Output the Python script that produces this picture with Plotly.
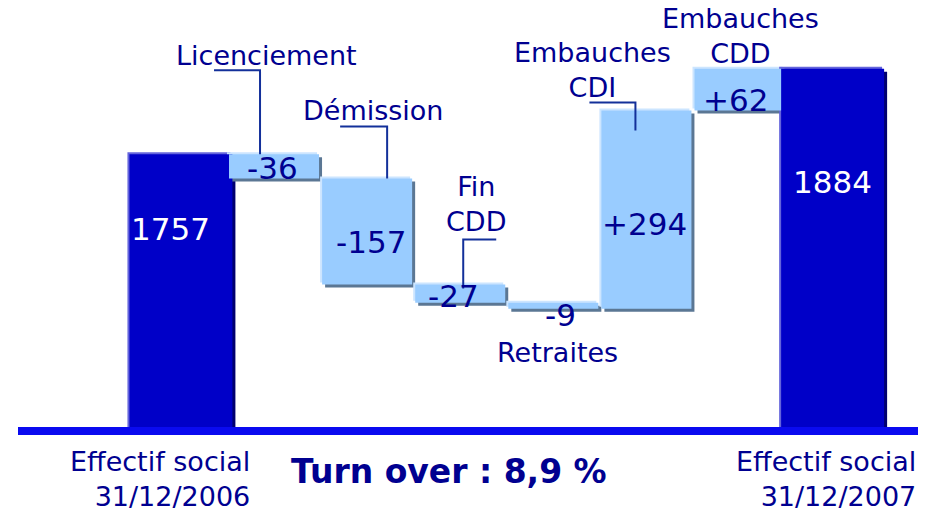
import plotly.graph_objects as go

# data
steps = ["Effectif social<br>31/12/2006", "Licenciement", "Démission", "Fin<br>CDD",
         "Retraites", "Embauches<br>CDI", "Embauches<br>CDD", "Effectif social<br>31/12/2007"]
start_total = 1757
changes = [-36, -157, -27, -9, 294, 62]
end_total = 1884
bar_labels = ["1757", "-36", "-157", "-27", "-9", "+294", "+62", "1884"]
turnover_text = "Turn over : 8,9 %"

# waterfall bases / heights from the changes
bases, heights = [0], [start_total]
level = start_total
for c in changes:
    bases.append(min(level, level + c))
    heights.append(abs(c))
    level += c
bases.append(0)
heights.append(end_total)
tops = [b + h for b, h in zip(bases, heights)]
xs = list(range(len(steps)))
is_total = [i in (0, len(steps) - 1) for i in xs]

# layout geometry
W, H = 937, 514
ML, MR, MT, MB = 18, 19, 0, 87
XR = [-1.75, 7.917]
YR = [1352.5, 1986]
px_x = (W - ML - MR) / (XR[1] - XR[0])
px_y = (H - MT - MB) / (YR[1] - YR[0])

NAVY = "#000090"
LINE = "#13309a"
widths = [1.106 if t else 0.967 for t in is_total]
main_col = ["#0000C8" if t else "#99CCFF" for t in is_total]
hi_col = ["#6464DC" if t else "#CCE5FF" for t in is_total]
sh_col = ["#000070" if t else "#5B7794" for t in is_total]

fig = go.Figure()
# shadow, highlight, main
fig.add_trace(go.Bar(x=xs, y=heights, base=[b - 3 / px_y for b in bases], width=widths,
                     offset=[-w / 2 + 3 / px_x for w in widths],
                     marker=dict(color=sh_col, line=dict(width=0)), hoverinfo="skip"))
fig.add_trace(go.Bar(x=xs, y=heights, base=[b + 2 / px_y for b in bases], width=widths,
                     offset=[-w / 2 - 2 / px_x for w in widths],
                     marker=dict(color=hi_col, line=dict(width=0)), hoverinfo="skip"))
fig.add_trace(go.Bar(x=xs, y=heights, base=bases, width=widths,
                     offset=[-w / 2 for w in widths],
                     marker=dict(color=main_col, line=dict(width=0)),
                     hovertext=bar_labels, hoverinfo="text"))

ann = []
# value labels: (anchor at top or middle, xshift, yshift)
val_pos = [("top", -10, -75), ("mid", -2, -2), ("mid", 4, -10), ("mid", -7, -2),
           ("mid", 7, -9), ("mid", -2, -14), ("mid", -4, -10), ("top", 0, -113)]
for i, (where, dx, dy) in enumerate(val_pos):
    y = tops[i] if where == "top" else bases[i] + heights[i] / 2
    ann.append(dict(x=i, y=y, text=bar_labels[i], showarrow=False, xshift=dx, yshift=dy,
                    font=dict(size=31, color="white" if is_total[i] else NAVY,
                              family="DejaVu Sans")))

# category labels above / below the step bars
cat_pos = {1: ("top", -8, 99), 2: ("top", 6, 68), 3: ("top", 16, 80),
           4: ("bottom", 4, -44), 5: ("top", -54, 41), 6: ("top", 1, 33)}
for i, (where, dx, dy) in cat_pos.items():
    y = tops[i] if where == "top" else bases[i]
    ann.append(dict(x=i, y=y, text=steps[i], showarrow=False, xshift=dx, yshift=dy,
                    font=dict(size=27, color=NAVY, family="DejaVu Sans")))

# total labels under the axis
for i, dx in ((0, 71), (len(steps) - 1, 85)):
    ann.append(dict(x=i, xref="x", y=0, yref="paper", text=steps[i], showarrow=False,
                    xanchor="right", yanchor="top", align="right", xshift=dx, yshift=-17,
                    font=dict(size=27, color=NAVY, family="DejaVu Sans")))

ann.append(dict(x=0.479, xref="paper", y=0, yref="paper", text="<b>" + turnover_text + "</b>",
                showarrow=False, yanchor="top", yshift=-23,
                font=dict(size=33, color=NAVY, family="DejaVu Sans")))

# callout lines (pixel offsets from the bar top)
callouts = {1: "M -60,84 L -14,84 L -14,0", 2: "M -27,52 L 20,52 L 20,0",
            3: "M 36,45 L 3,45 L 3,-4", 5: "M -57,8 L -11,8 L -11,-20"}
shapes = []
for i, path in callouts.items():
    shapes.append(dict(type="path", path=path, xref="x", yref="y",
                       xsizemode="pixel", ysizemode="pixel", xanchor=i, yanchor=tops[i],
                       line=dict(color=LINE, width=2)))

fig.update_layout(
    width=W, height=H,
    margin=dict(l=ML, r=MR, t=MT, b=MB),
    barmode="overlay", showlegend=False,
    paper_bgcolor="white", plot_bgcolor="white",
    xaxis=dict(range=XR, showline=True, linecolor="#0A0AF0", linewidth=8,
               showticklabels=False, showgrid=False, zeroline=False, ticks=""),
    yaxis=dict(range=YR, visible=False, showgrid=False, zeroline=False),
    annotations=ann, shapes=shapes,
)

fig.write_html("out.html", config={"displayModeBar": False},
               post_script="document.body.style.margin='0';")
